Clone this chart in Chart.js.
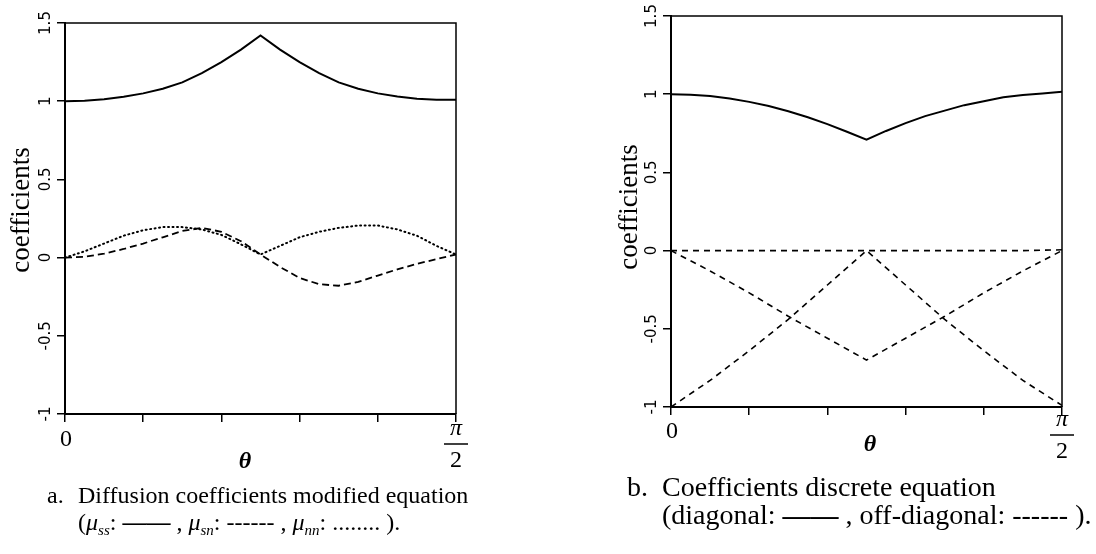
<!DOCTYPE html>
<html>
<head>
<meta charset="utf-8">
<script src="https://cdn.jsdelivr.net/npm/chart.js@4.4.1/dist/chart.umd.min.js"></script>
<style>
  body { margin: 0; background: #fff; width: 1096px; height: 554px; overflow: hidden; position: relative; }
  canvas { position: absolute; top: 0; }
  .cap { position: absolute; font-family: "Liberation Serif", "Times New Roman", serif; color: #000; white-space: nowrap; }
  .capA { font-size: 24px; line-height: 27px; }
  .capB { font-size: 28px; line-height: 28px; }
  .cap i { font-style: italic; }
  .cap sub { font-size: 15px; vertical-align: -5px; font-style: italic; }
</style>
</head>
<body>
<canvas id="chartA" width="548" height="554" style="left:0"></canvas>
<canvas id="chartB" width="548" height="554" style="left:548px"></canvas>

<div class="cap capA" style="left:47px; top:482px">a.</div>
<div class="cap capA" style="left:78px; top:482px">Diffusion coefficients modified equation<br>(<i>μ</i><sub>ss</sub>: <b>——</b>&nbsp;, <i>μ</i><sub>sn</sub>: ------ , <i>μ</i><sub>nn</sub>: ........ ).</div>
<div class="cap capB" style="left:627px; top:473px">b.</div>
<div class="cap capB" style="left:662px; top:473px">Coefficients discrete equation<br>(diagonal: <b>——</b>&nbsp;, off-diagonal: ------ ).</div>

<script>
// theta in degrees, 0 .. 90 (= pi/2)
const thetaFine = [0, 4.5, 9, 13.5, 18, 22.5, 27, 31.5, 36, 40.5, 45, 49.5, 54, 58.5, 63, 67.5, 72, 76.5, 81, 85.5, 90];
const thetaCoarse = [0, 9, 18, 27, 36, 45, 54, 63, 72, 81, 90];

// a. diffusion coefficients of the modified equation
const muSS = [1.00, 1.003, 1.012, 1.028, 1.05, 1.08, 1.12, 1.18, 1.25, 1.33, 1.42, 1.33, 1.25, 1.18, 1.12, 1.08, 1.05, 1.03, 1.015, 1.01, 1.01];
const muSN = [0, 0.005, 0.025, 0.055, 0.09, 0.13, 0.17, 0.19, 0.165, 0.105, 0.02, -0.06, -0.13, -0.17, -0.18, -0.155, -0.115, -0.075, -0.04, -0.01, 0.02];
const muNN = [0, 0.04, 0.09, 0.14, 0.175, 0.195, 0.195, 0.18, 0.145, 0.085, 0.02, 0.075, 0.13, 0.165, 0.19, 0.205, 0.205, 0.18, 0.14, 0.075, 0.02];

// b. coefficients of the discrete equation
const diagonal = [1.00, 0.997, 0.988, 0.972, 0.951, 0.924, 0.891, 0.853, 0.809, 0.760, 0.71, 0.765, 0.815, 0.86, 0.895, 0.93, 0.955, 0.98, 0.995, 1.005, 1.015];
const offZero = [0, 0, 0, 0, 0, 0, 0, 0, 0, 0, 0.005];
const offV = [0, -0.13, -0.27, -0.42, -0.56, -0.70, -0.56, -0.42, -0.27, -0.13, 0];
const offInvV = [-1, -0.83, -0.64, -0.44, -0.22, 0, -0.22, -0.44, -0.64, -0.83, -0.99];

// axis ticks
const yTickValues = [-1, -0.5, 0, 0.5, 1, 1.5];
const yTickLabels = ['-1', '-0.5', '0', '0.5', '1', '1.5'];
const xLabelLeft = '0';
const xLabelRightTop = 'π';
const xLabelRightBottom = '2';
const xTitle = 'θ';
const yTitle = 'coefficients';

function pts(xs, ys) {
  return xs.map((x, i) => ({ x: x, y: ys[i] }));
}

function line(xs, ys, dash, width) {
  return {
    data: pts(xs, ys),
    borderColor: '#000',
    borderWidth: width || 2,
    borderDash: dash || [],
    borderCapStyle: dash && dash[0] < 2 ? 'round' : 'butt',
    pointRadius: 0,
    tension: 0,
    fill: false
  };
}

// frame, rotated tick labels, axis titles
const decor = {
  id: 'decor',
  afterDraw(chart, args, opts) {
    const { ctx, chartArea: a, scales } = chart;
    ctx.save();
    ctx.strokeStyle = '#000';
    ctx.lineWidth = 1.5;
    ctx.beginPath();
    ctx.moveTo(a.left, a.top);
    ctx.lineTo(a.right, a.top);
    ctx.lineTo(a.right, a.bottom);
    ctx.stroke();

    ctx.fillStyle = '#000';
    ctx.textAlign = 'center';
    ctx.textBaseline = 'middle';
    ctx.font = '15px "DejaVu Sans"';
    yTickValues.forEach((v, i) => {
      const y = scales.y.getPixelForValue(v);
      ctx.save();
      ctx.translate(a.left - 19, y);
      ctx.rotate(-Math.PI / 2);
      ctx.fillText(yTickLabels[i], 0, 0);
      ctx.restore();
    });

    const x0 = scales.x.getPixelForValue(0);
    const x1 = scales.x.getPixelForValue(90);
    ctx.font = '24px "Liberation Serif"';
    ctx.fillText(xLabelLeft, x0 + 1, a.bottom + opts.zeroDy);
    ctx.font = 'italic 24px "Liberation Serif"';
    ctx.fillText(xLabelRightTop, x1, a.bottom + opts.piDy);
    ctx.lineWidth = 1.5;
    ctx.beginPath();
    ctx.moveTo(x1 - 12, a.bottom + opts.piDy + 15);
    ctx.lineTo(x1 + 12, a.bottom + opts.piDy + 15);
    ctx.stroke();
    ctx.font = '24px "Liberation Serif"';
    ctx.fillText(xLabelRightBottom, x1, a.bottom + opts.piDy + 32);

    ctx.font = 'italic bold 24px "Liberation Serif"';
    ctx.fillText(xTitle, opts.thetaX, a.bottom + opts.thetaDy);

    ctx.font = '27px "Liberation Serif"';
    ctx.save();
    ctx.translate(opts.titleX, opts.titleY);
    ctx.rotate(-Math.PI / 2);
    ctx.fillText(yTitle, 0, 0);
    ctx.restore();
    ctx.restore();
  }
};

function makeChart(id, datasets, padding, decorOpts) {
  const axisGrid = { drawOnChartArea: false, drawTicks: true, tickLength: 8, color: '#000', lineWidth: 1.5 };
  return new Chart(document.getElementById(id), {
    type: 'line',
    data: { datasets: datasets },
    options: {
      responsive: false,
      animation: false,
      layout: { padding: padding },
      plugins: { legend: { display: false }, tooltip: { enabled: false }, decor: decorOpts },
      scales: {
        x: {
          type: 'linear', min: 0, max: 90,
          ticks: { stepSize: 18, display: false },
          grid: axisGrid,
          border: { color: '#000', width: 2 },
          afterFit(s) { s.height = 8; }
        },
        y: {
          type: 'linear', min: -1, max: 1.5,
          ticks: { stepSize: 0.5, display: false },
          grid: axisGrid,
          border: { color: '#000', width: 2 },
          afterFit(s) { s.width = 8; }
        }
      }
    },
    plugins: [decor]
  });
}

makeChart('chartA', [
  line(thetaFine, muSS, [], 2),
  line(thetaFine, muSN, [7, 4], 1.8),
  line(thetaFine, muNN, [1, 3.5], 2)
], { left: 57, right: 92, top: 23, bottom: 132 },
  { zeroDy: 26, piDy: 15, thetaDy: 48, thetaX: 245, titleX: 22, titleY: 210 });

makeChart('chartB', [
  line(thetaFine, diagonal, [], 2),
  line(thetaCoarse, offZero, [6, 5], 1.6),
  line(thetaCoarse, offV, [6, 5], 1.6),
  line(thetaCoarse, offInvV, [6, 5], 1.6)
], { left: 115, right: 34, top: 16, bottom: 139 },
  { zeroDy: 25, piDy: 13, thetaDy: 38, thetaX: 322, titleX: 82, titleY: 207 });
</script>
</body>
</html>
